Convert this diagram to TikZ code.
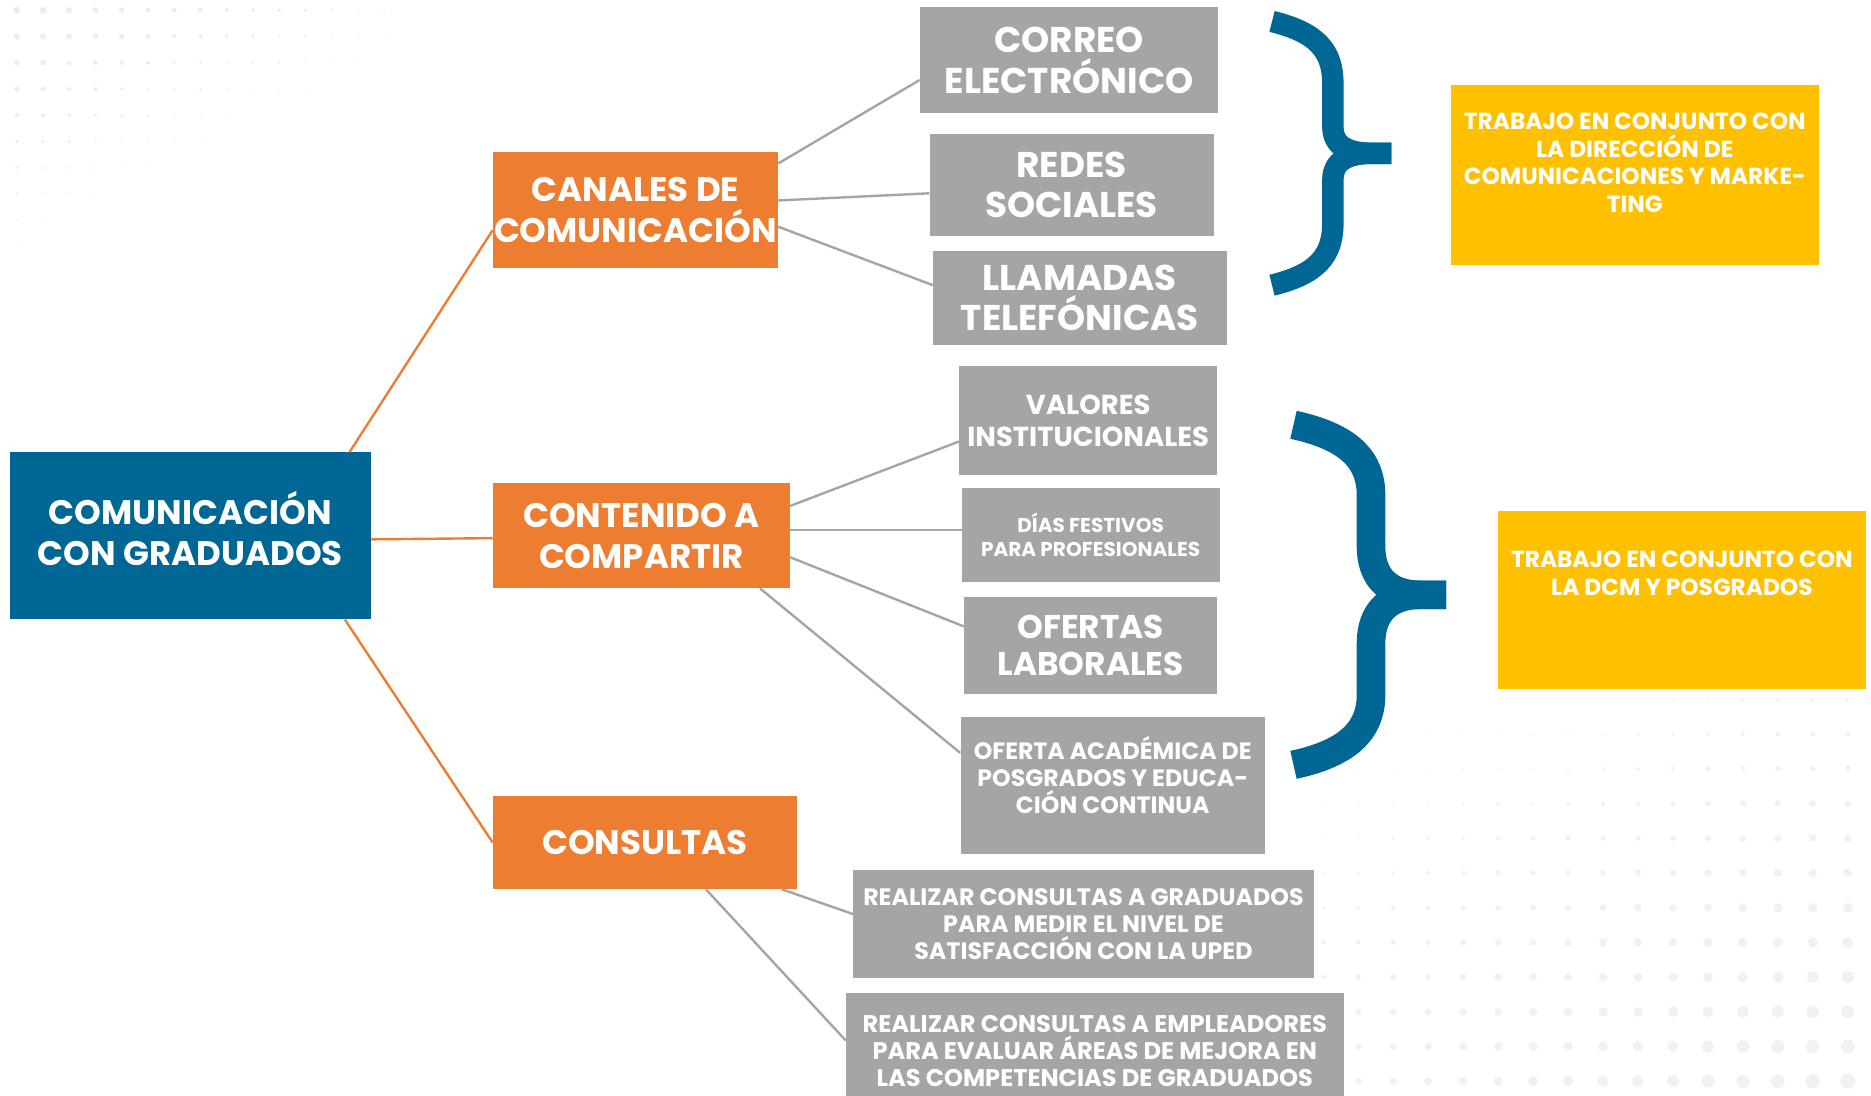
\documentclass[tikz,border=0pt]{standalone}
\usepackage{fontspec}
\setmainfont{Poppins}
\definecolor{azul}{HTML}{006694}
\definecolor{naranja}{HTML}{ED7D31}
\definecolor{gris}{HTML}{A5A5A5}
\definecolor{amarillo}{HTML}{FFC000}
\definecolor{punto}{HTML}{EDEDED}
\begin{document}
\begin{tikzpicture}[x=1pt,y=-1pt,
    size/.style 2 args={minimum width=#1, minimum height=#2},
    mainbox/.style={fill=azul, inner sep=0pt},
    maintext/.style={text=white, align=center, inner sep=0pt,
      font=\bfseries\fontsize{28.5}{34}\selectfont},
    topic/.style={fill=naranja, text=white, align=center, inner sep=0pt,
      font=\bfseries\fontsize{28.5}{34}\selectfont},
    item/.style 2 args={fill=gris, text=white, align=center, inner sep=0pt,
      font=\bfseries\fontsize{#1}{#2}\selectfont},
    bigitem/.style={item={30}{34}},
    note/.style={fill=amarillo, inner sep=0pt},
    notetext/.style={text=white, align=center, inner sep=0pt,
      font=\bfseries\fontsize{19.5}{23}\selectfont},
    orangelink/.style={draw=naranja, line width=2},
    greylink/.style={draw=gris, line width=2},
    bracket/.style={draw=azul, line width=#1}]
    \useasboundingbox (0,0) rectangle (1568,918);
    \fill[white] (0,0) rectangle (1568,918);
    % dotted background
    \foreach \i in {0,...,14} \foreach \j in {0,...,9} {
        \pgfmathsetmacro\r{3-0.15*\i-0.28*\j}
        \ifdim\r pt>0.2pt \fill[punto] (14+22*\i,8.6+22*\j) circle[radius=\r pt]; \fi
    }
    \foreach \i in {0,...,15} \foreach \j in {0,...,11} {
        \pgfmathsetmacro\r{0.11*\i+0.24*\j+0.012*\i*\j}
        \ifdim\r pt>0.5pt \fill[punto!80] (1109+29.3*\i,586+29.1*\j) circle[radius=\r pt]; \fi
    }

    \node[mainbox, size={303}{140}] (root) at (159.5,449) {};
    \node[maintext] (roottxt) at (159.5,443) {COMUNICACIÓN\\CON GRADUADOS};
    \node[topic, size={239}{98}] (canales) at (532.5,176) {CANALES DE\\COMUNICACIÓN};
    \node[topic, size={249}{88}] (contenido) at (537.5,449) {CONTENIDO A\\COMPARTIR};
    \node[topic, size={255}{78}] (consultas) at (540.5,706) {CONSULTAS};

    \node[bigitem, size={250}{89}] (correo) at (896,50.5) {CORREO\\ELECTRÓNICO};
    \node[bigitem, size={238}{86}] (redes) at (898,155) {REDES\\SOCIALES};
    \node[bigitem, size={246}{79}] (llamadas) at (905,249.5) {LLAMADAS\\TELEFÓNICAS};
    \node[item={23}{27}, size={216}{91}] (valores) at (912,352.5) {VALORES\\INSTITUCIONALES};
    \node[item={16.8}{20}, size={216}{79}] (dias) at (914,448.5) {DÍAS FESTIVOS\\PARA PROFESIONALES};
    \node[item={27.5}{31}, size={212}{82}] (ofertas) at (914,541) {OFERTAS\\LABORALES};
    \node[item={19.8}{22.5}, size={255}{115}] (academica) at (932.5,658.5) {};
    \node[item={19.8}{22.5}, fill=none] (academicatxt) at (932.5,649.5) {OFERTA ACADÉMICA DE\\POSGRADOS Y EDUCA-\\CIÓN CONTINUA};
    \node[item={19.9}{23}, size={386}{91}] (graduados) at (908,774.5) {REALIZAR CONSULTAS A GRADUADOS\\PARA MEDIR EL NIVEL DE\\SATISFACCIÓN CON LA UPED};
    \node[item={20.2}{22.5}, size={417}{98}] (empleadores) at (917.5,881) {REALIZAR CONSULTAS A EMPLEADORES\\PARA EVALUAR ÁREAS DE MEJORA EN\\LAS COMPETENCIAS DE GRADUADOS};

    \node[note, size={308}{151}] (dircom) at (1370,146.5) {};
    \node[notetext] (dircomtxt) at (1370,136.5) {TRABAJO EN CONJUNTO CON\\LA DIRECCIÓN DE\\COMUNICACIONES Y MARKE-\\TING};
    \node[note, size={309}{149}] (dcm) at (1409.5,502.5) {};
    \node[notetext] (dcmtxt) at (1409.5,480.5) {TRABAJO EN CONJUNTO CON\\LA DCM Y POSGRADOS};

    \draw[orangelink] ([xshift=133.5]root.north) -- ([yshift=-17]canales.west);
    \draw[orangelink] ([yshift=-3]root.east) -- ([yshift=-2]contenido.west);
    \draw[orangelink] ([xshift=129.5]root.south) -- (consultas.west);

    \draw[greylink] ([yshift=39]canales.east) -- ([yshift=-16.5]correo.west);
    \draw[greylink] ([yshift=8]canales.east) -- ([yshift=-7]redes.west);
    \draw[greylink] ([yshift=-14]canales.east) -- ([yshift=10.5]llamadas.west);
    \draw[greylink] ([yshift=25]contenido.east) -- ([yshift=-17.5]valores.west);
    \draw[greylink] ([yshift=5]contenido.east) -- ([yshift=4.5]dias.west);
    \draw[greylink] ([yshift=-18]contenido.east) -- ([yshift=16]ofertas.west);
    \draw[greylink] ([xshift=99.5]contenido.south) -- ([yshift=27.5]academica.west);
    \draw[greylink] ([xshift=114.5]consultas.south) -- ([yshift=8.5]graduados.west);
    \draw[greylink] ([xshift=51]consultas.south) -- ([yshift=9]empleadores.west);

    \draw[bracket=18] (1066,18) .. controls (1103,27) and (1117,42) .. (1117,70) -- (1117,106)
        .. controls (1117,124) and (1132,128.5) .. (1151,128.5) -- (1166,128.5);
    \draw[bracket=18] (1166,128.5) -- (1151,128.5) .. controls (1132,128.5) and (1117,133) .. (1117,151)
        -- (1117,187) .. controls (1117,215) and (1103,230) .. (1066,239);
    \draw[bracket=24] (1084,356) .. controls (1130,366) and (1149,385) .. (1149,415) -- (1149,458)
        .. controls (1149,485) and (1165,498.5) .. (1190,498.5) -- (1212,498.5);
    \draw[bracket=24] (1212,498.5) -- (1190,498.5) .. controls (1165,498.5) and (1149,512) .. (1149,539)
        -- (1149,582) .. controls (1149,612) and (1130,631) .. (1084,641);
\end{tikzpicture}
\end{document}
